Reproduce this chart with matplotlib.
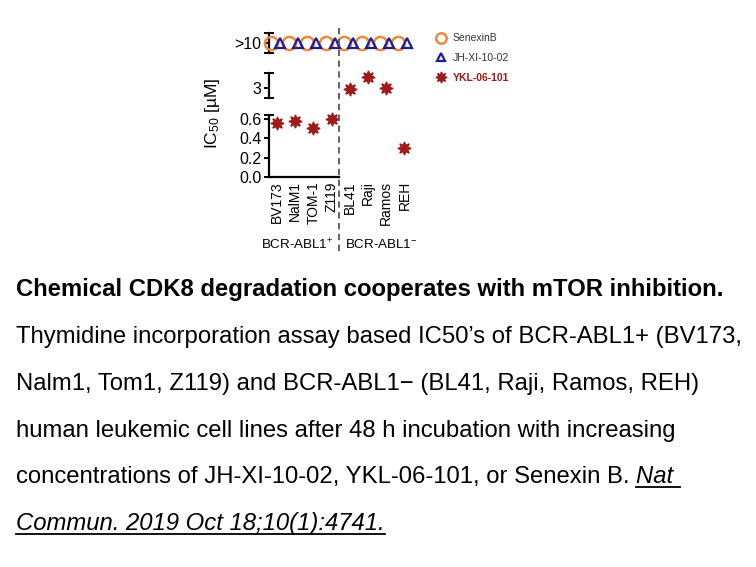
import matplotlib
matplotlib.use('Agg')
import matplotlib.pyplot as plt
from matplotlib.lines import Line2D
import numpy as np

plt.rcParams['font.family'] = ['Liberation Sans', 'DejaVu Sans']
plt.rcParams['mathtext.fontset'] = 'custom'
plt.rcParams['mathtext.rm'] = 'Liberation Sans'
plt.rcParams['mathtext.it'] = 'Liberation Sans:italic'
plt.rcParams['mathtext.bf'] = 'Liberation Sans:bold'

# data
cell_lines = ['BV173', 'NalM1', 'TOM-1', 'Z119', 'BL41', 'Raji', 'Ramos', 'REH']
senexin_b = [10, 10, 10, 10, 10, 10, 10, 10]     # ">10"
jh_xi_10_02 = [10, 10, 10, 10, 10, 10, 10, 10]   # ">10"
ykl_06_101 = [0.56, 0.58, 0.51, 0.60, 2.85, 4.1, 2.95, 0.30]
groups = ['BCR-ABL1$^{+}$', 'BCR-ABL1$^{-}$']

W, H = 756, 567
fig = plt.figure(figsize=(W / 100, H / 100), dpi=100)


def rect(x0, y0, x1, y1):
    return [x0 / W, 1 - y1 / H, (x1 - x0) / W, (y1 - y0) / H]


orange = '#f0883a'
navy = '#1c1c9c'
red = '#9e1a1a'
x = np.arange(len(cell_lines))
xlim = (-0.44, 7.5)
split = 3.42

ax_top = fig.add_axes(rect(269, 33, 413.5, 53))
ax_mid = fig.add_axes(rect(269, 73, 413.5, 98))
ax_bot = fig.add_axes(rect(269, 115, 413.5, 177))

for ax in (ax_top, ax_mid, ax_bot):
    ax.set_xlim(*xlim)
    ax.patch.set_alpha(0)
    for s in ('top', 'right'):
        ax.spines[s].set_visible(False)
    ax.spines['left'].set_linewidth(1.6)
    ax.tick_params(axis='y', direction='out', length=3.5, width=1.4, labelsize=11.5, pad=2)
    ax.tick_params(axis='y', which='minor', direction='inout', length=7, width=1.4)
    ax.tick_params(axis='x', length=0)
for ax in (ax_top, ax_mid):
    ax.spines['bottom'].set_visible(False)
    ax.set_xticks([])

ax_top.set_ylim(8, 12)
ax_top.set_yticks([10])
ax_top.set_yticklabels(['>10'])
ax_top.set_yticks([8, 12], minor=True)

ax_mid.set_ylim(2, 4.5)
ax_mid.set_yticks([3])
ax_mid.set_yticks([2, 4.5], minor=True)

ax_bot.set_ylim(0, 0.64)
ax_bot.set_yticks([0, 0.2, 0.4, 0.6])
ax_bot.set_yticklabels(['0.0', '0.2', '0.4', '0.6'])
ax_bot.set_yticks([0.64], minor=True)
ax_bot.spines['bottom'].set_linewidth(1.6)
ax_bot.spines['bottom'].set_bounds(xlim[0], split)
ax_bot.set_xticks(x)
ax_bot.set_xticklabels(cell_lines, rotation=90, fontsize=10)
ax_bot.tick_params(axis='x', pad=3)

# markers
ax_top.plot(x - 0.33, senexin_b, 'o', ms=9.5, mfc='none', mec=orange, mew=1.8,
            clip_on=False, zorder=3)
ax_top.plot(x + 0.16, jh_xi_10_02, '^', ms=7, mfc='none', mec=navy, mew=1.6,
            clip_on=False, zorder=4)

ykl = np.array(ykl_06_101)
low = ykl < 1
star = (8, 1, 0)
ax_bot.plot(x[low], ykl[low], ls='none', marker=star, ms=9.5, color=red, clip_on=False)
ax_mid.plot(x[~low], ykl[~low], ls='none', marker=star, ms=9.5, color=red, clip_on=False)

# dashed separator across panels and labels
ax_line = fig.add_axes(rect(269, 25, 413.5, 251))
ax_line.set_xlim(*xlim)
ax_line.set_ylim(251, 25)
ax_line.axis('off')
ax_line.axvline(split, color='#555555', lw=1.3, ls=(0, (3.5, 2.5)))

# group labels
ax_line.text(split - 0.3, 245, groups[0], ha='right', va='center', fontsize=9.6)
ax_line.text(split + 0.3, 245, groups[1], ha='left', va='center', fontsize=9.6)

fig.text(212 / W, 1 - 113 / H, 'IC$_{50}$ [µM]', rotation=90, ha='center', va='center',
         fontsize=12.5)

# legend
handles = [
    Line2D([], [], ls='none', marker='o', ms=7.5, mfc='none', mec=orange, mew=1.8),
    Line2D([], [], ls='none', marker='^', ms=6, mfc='none', mec=navy, mew=1.6),
    Line2D([], [], ls='none', marker=star, ms=8, color=red),
]
leg = fig.legend(handles, ['SenexinB', 'JH-XI-10-02', 'YKL-06-101'], loc='upper left',
                 bbox_to_anchor=(431 / W, 1 - 28 / H), frameon=False, fontsize=7.5,
                 handlelength=1.0, handletextpad=0.6, labelspacing=0.95, borderpad=0)
for t, c in zip(leg.get_texts(), ['#333333', '#333333', red]):
    t.set_color(c)
leg.get_texts()[2].set_fontweight('bold')

# caption
x0 = 16 / W
fs = 17.2
baselines = [296, 343, 390, 437, 483, 530]
fig.text(x0, 1 - baselines[0] / H, 'Chemical CDK8 degradation cooperates with mTOR inhibition.',
         fontsize=fs, fontweight='bold', va='baseline')
lines = [
    'Thymidine incorporation assay based IC50\u2019s of BCR-ABL1+ (BV173,',
    'Nalm1, Tom1, Z119) and BCR-ABL1\u2212 (BL41, Raji, Ramos, REH)',
    'human leukemic cell lines after 48 h incubation with increasing',
]
for txt, b in zip(lines, baselines[1:4]):
    fig.text(x0, 1 - b / H, txt, fontsize=fs, va='baseline')

renderer = fig.canvas.get_renderer()
t5 = fig.text(x0, 1 - baselines[4] / H,
              'concentrations of JH-XI-10-02, YKL-06-101, or Senexin B. ',
              fontsize=fs, va='baseline')
bb = t5.get_window_extent(renderer).transformed(fig.transFigure.inverted())
t_nat = fig.text(bb.x1, 1 - baselines[4] / H, 'Nat ', fontsize=fs, style='italic',
                 va='baseline')
t_com = fig.text(x0, 1 - baselines[5] / H, 'Commun. 2019 Oct 18;10(1):4741.',
                 fontsize=fs, style='italic', va='baseline')
for t, b in ((t_nat, baselines[4]), (t_com, baselines[5])):
    e = t.get_window_extent(renderer).transformed(fig.transFigure.inverted())
    yu = 1 - (b + 4) / H
    fig.add_artist(Line2D([e.x0, e.x1], [yu, yu], color='black', lw=1.3,
                          transform=fig.transFigure))

fig.savefig('out.png', dpi=100)
